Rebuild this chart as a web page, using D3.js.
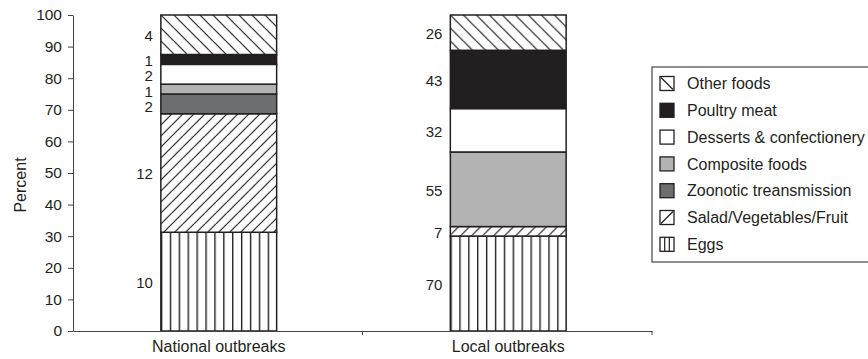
<!DOCTYPE html>
<html>
<head>
<meta charset="utf-8">
<script src="https://cdn.jsdelivr.net/npm/d3@7"></script>
<style>
  html, body { margin: 0; padding: 0; background: #fff; }
  svg { display: block; font-family: "Liberation Sans", Arial, Helvetica, sans-serif; }
  text { fill: #231f20; }
</style>
</head>
<body>
<svg id="chart" width="868" height="359"></svg>
<script>
// ---- Data ----
const categories = ["National outbreaks", "Local outbreaks"];
const foodGroups = ["Eggs", "Salad/Vegetables/Fruit", "Zoonotic treansmission", "Composite foods", "Desserts & confectionery", "Poultry meat", "Other foods"];
const nationalCounts = [10, 12, 2, 1, 2, 1, 4];
const localCounts = [70, 7, 0, 55, 32, 43, 26];
const yTicks = [0, 10, 20, 30, 40, 50, 60, 70, 80, 90, 100];
const yTitle = "Percent";

// ---- Styles ----
const INK = "#231f20";
const fills = {
  "Eggs": {type: "vlines", spacing: 8.9},
  "Salad/Vegetables/Fruit": {type: "slash", spacing: 11},
  "Zoonotic treansmission": {type: "solid", color: "#6d6e70"},
  "Composite foods": {type: "solid", color: "#b3b3b3"},
  "Desserts & confectionery": {type: "solid", color: "#ffffff"},
  "Poultry meat": {type: "solid", color: INK},
  "Other foods": {type: "backslash", spacing: 13}
};

const svg = d3.select("#chart");
const defs = svg.append("defs");

const margin = {left: 73, right: 216, top: 15, bottom: 28};
const W = 868, H = 359;
const x0 = margin.left, x1 = W - margin.right, yBase = H - margin.bottom;

const x = d3.scaleBand().domain(categories).range([x0, x1]).paddingInner(0).paddingOuter(0);
const y = d3.scaleLinear().domain([0, 100]).range([yBase, margin.top]);
const barW = x.bandwidth() * 0.4;
const barLeft = c => x(c) + (x.bandwidth() - barW) / 2 + 1;

// table for stack
const rows = categories.map((c, i) => {
  const r = {category: c};
  const vals = i === 0 ? nationalCounts : localCounts;
  foodGroups.forEach((g, j) => r[g] = vals[j]);
  return r;
});
const stack = d3.stack().keys(foodGroups).offset(d3.stackOffsetExpand);
const series = stack(rows);

function makePattern(id, spec, ox, oy) {
  const s = spec.spacing;
  if (spec.type === "vlines") {
    const p = defs.append("pattern").attr("id", id).attr("patternUnits", "userSpaceOnUse")
      .attr("x", ox).attr("y", 0).attr("width", s).attr("height", 10);
    p.append("rect").attr("width", s).attr("height", 10).attr("fill", "#fff");
    p.append("line").attr("x1", 0.7).attr("x2", 0.7).attr("y1", 0).attr("y2", 10)
      .attr("stroke", INK).attr("stroke-width", 1.4);
  } else {
    const p = defs.append("pattern").attr("id", id).attr("patternUnits", "userSpaceOnUse")
      .attr("x", ox).attr("y", oy).attr("width", s).attr("height", s);
    p.append("rect").attr("width", s).attr("height", s).attr("fill", "#fff");
    const seg = spec.type === "slash"
      ? [[0, s, s, 0], [-s, s, 0, 0], [s, s, 2 * s, 0]]
      : [[0, 0, s, s], [-s, 0, 0, s], [s, 0, 2 * s, s]];
    seg.forEach(a => p.append("line").attr("x1", a[0]).attr("y1", a[1]).attr("x2", a[2]).attr("y2", a[3])
      .attr("stroke", INK).attr("stroke-width", 1.2));
  }
}

function fillFor(group, ci) {
  const spec = fills[group];
  if (spec.type === "solid") return spec.color;
  const id = "pat-" + foodGroups.indexOf(group) + "-" + ci;
  makePattern(id, spec, barLeft(categories[ci]), margin.top);
  return "url(#" + id + ")";
}

// ---- Bars ----
const gBars = svg.append("g");
series.forEach(s => {
  s.forEach((d, ci) => {
    if (d[1] - d[0] <= 0) return;
    gBars.append("rect")
      .attr("x", barLeft(categories[ci]))
      .attr("y", y(d[1] * 100))
      .attr("width", barW)
      .attr("height", y(d[0] * 100) - y(d[1] * 100))
      .attr("fill", fillFor(s.key, ci))
      .attr("stroke", INK)
      .attr("stroke-width", 1.5);
  });
});

// ---- Value labels (centred on segments, nudged apart when crowded) ----
const gLab = svg.append("g").attr("font-size", 15).attr("text-anchor", "end");
categories.forEach((c, ci) => {
  const counts = ci === 0 ? nationalCounts : localCounts;
  const labs = [];
  series.forEach((s, gi) => {
    const d = s[ci];
    if (!counts[gi]) return;
    labs.push({v: counts[gi], cy: y((d[0] + d[1]) / 2 * 100) + 1});
  });
  labs.sort((a, b) => a.cy - b.cy);
  for (let i = 1; i < labs.length; i++) {
    if (labs[i].cy - labs[i - 1].cy < 15.5) labs[i].cy = labs[i - 1].cy + 15.5;
  }
  labs.forEach(l => gLab.append("text")
    .attr("x", barLeft(c) - 8)
    .attr("y", l.cy)
    .attr("dy", "0.35em")
    .text(l.v));
});

// ---- Axes ----
const yAxis = d3.axisLeft(y).tickValues(yTicks).tickSize(5).tickSizeOuter(0).tickPadding(6);
const gy = svg.append("g").attr("transform", `translate(${x0},0)`).call(yAxis);
gy.select(".domain").attr("stroke", "#444");
gy.selectAll(".tick line").attr("stroke", "#444");
gy.selectAll(".tick text").attr("font-size", 15.5).attr("fill", INK).attr("font-family", null);

const xAxis = d3.axisBottom(x).tickSize(0).tickSizeOuter(0).tickPadding(10);
const gx = svg.append("g").attr("transform", `translate(0,${yBase})`).call(xAxis);
gx.select(".domain").attr("stroke", "#444");
gx.selectAll(".tick text").attr("font-size", 16).attr("fill", INK).attr("font-family", null);
gx.selectAll(".tick").attr("transform", d => `translate(${x(d) + x.bandwidth() / 2 + 1},0)`);
// category boundary ticks
const bounds = categories.slice(1).map(c => x(c)).concat([x1]);
gx.selectAll(".bound").data(bounds).enter().append("line")
  .attr("x1", d => d).attr("x2", d => d).attr("y1", 0).attr("y2", 4)
  .attr("stroke", "#444");

svg.append("text")
  .attr("transform", `translate(26,${(y(0) + y(100)) / 2 + 12}) rotate(-90)`)
  .attr("text-anchor", "middle")
  .attr("font-size", 16)
  .text(yTitle);

// ---- Legend ----
const legend = svg.append("g").attr("transform", "translate(652,67)");
legend.append("rect").attr("x", 0).attr("y", 0).attr("width", 240).attr("height", 195)
  .attr("fill", "#fff").attr("stroke", "#444").attr("stroke-width", 1.2);
const legOrder = foodGroups.slice().reverse();
legOrder.forEach((g, i) => {
  const cy = 16.5 + i * 26.8;
  const sw = 14, sx = 8, sy = cy - sw / 2;
  const spec = fills[g];
  const item = legend.append("g");
  item.append("rect").attr("x", sx).attr("y", sy).attr("width", sw).attr("height", sw)
    .attr("fill", spec.type === "solid" ? spec.color : "#fff")
    .attr("stroke", INK).attr("stroke-width", 1.3);
  if (spec.type === "vlines") {
    [sw / 3, 2 * sw / 3].forEach(f => item.append("line")
      .attr("x1", sx + f).attr("x2", sx + f).attr("y1", sy).attr("y2", sy + sw)
      .attr("stroke", INK).attr("stroke-width", 1.2));
  } else if (spec.type === "slash") {
    item.append("line").attr("x1", sx + 1).attr("y1", sy + sw - 1).attr("x2", sx + sw - 1).attr("y2", sy + 1)
      .attr("stroke", INK).attr("stroke-width", 1.2);
  } else if (spec.type === "backslash") {
    item.append("line").attr("x1", sx + 1).attr("y1", sy + 1).attr("x2", sx + sw - 1).attr("y2", sy + sw - 1)
      .attr("stroke", INK).attr("stroke-width", 1.2);
  }
  item.append("text").attr("x", 35).attr("y", cy).attr("dy", "0.35em")
    .attr("font-size", 16).text(g);
});
</script>
</body>
</html>
